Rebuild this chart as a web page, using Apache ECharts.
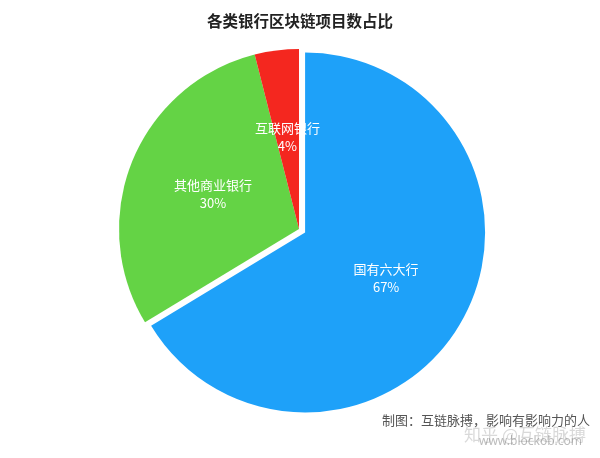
<!DOCTYPE html>
<html><head><meta charset="utf-8">
<script src="https://cdn.jsdelivr.net/npm/echarts@6/dist/echarts.min.js"></script>
<style>html,body{margin:0;padding:0;background:#fff}#c{width:600px;height:458px}</style>
</head><body><div id="c"></div>
<script>
var titleText = '各类银行区块链项目数占比';
var categories = ['国有六大行', '其他商业银行', '互联网银行'];
var values = [67, 30, 4];
var colors = ['#1EA1F9', '#64D345', '#F4271F'];
var footerText = '制图：互链脉搏，影响有影响力的人';

var chart = echarts.init(document.getElementById('c'), null, {renderer: 'canvas'});
chart.setOption({
  animation: false,
  backgroundColor: '#fff',
  title: {
    text: titleText, left: 'center', top: 8,
    textStyle: {fontSize: 15.5, fontWeight: 'bold', color: '#222', fontFamily: 'Noto Sans CJK SC'}
  },
  graphic: [
    {type: 'text', right: 10, top: 414, style: {text: footerText, fill: '#555', fontSize: 13, fontFamily: 'Noto Sans CJK SC'}},
    {type: 'text', right: 14, top: 426, style: {text: '知乎 @互链脉搏', fill: 'rgba(170,170,170,0.45)', fontSize: 17, fontFamily: 'Noto Sans CJK SC'}},
    {type: 'text', right: 18, top: 436, style: {text: 'www.blockob.com', fill: 'rgba(120,120,120,0.5)', fontSize: 12, fontFamily: 'Noto Sans'}}
  ],
  series: [{
    type: 'pie',
    center: [299, 229],
    radius: [0, 180],
    startAngle: 90,
    clockwise: true,
    selectedMode: 'single',
    selectedOffset: 7,
    emphasis: {disabled: true},
    label: {
      position: 'inside', color: '#fff', fontSize: 13, lineHeight: 18,
      fontFamily: 'Noto Sans CJK SC',
      formatter: function(p){ return p.name + '\n' + p.value + '%'; }
    },
    data: categories.map(function(n, i){
      return {name: n, value: values[i], selected: i === 0, itemStyle: {color: colors[i]}};
    })
  }]
});
</script></body></html>
